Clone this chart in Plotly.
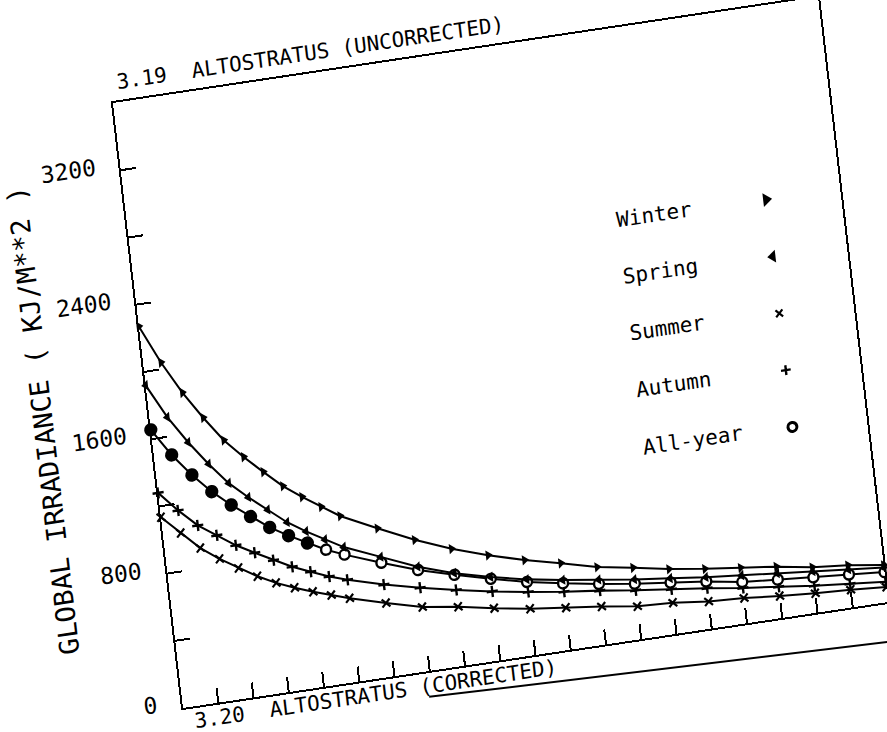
import plotly.graph_objects as go

# Irradiance curves for altostratus, by season
x_vals = [0, 0.5, 1, 1.5, 2, 2.5, 3, 3.5, 4, 4.5, 5,
          6, 7, 8, 9, 10, 11, 12, 13, 14, 15, 16, 17, 18, 19, 20]
winter = [2270, 2040, 1845, 1680, 1530, 1415, 1310, 1210, 1130, 1055, 985,
          880, 780, 695, 625, 565, 515, 460, 425, 385, 355, 330, 305, 270, 250, 220]
spring = [1920, 1715, 1550, 1405, 1275, 1175, 1085, 995, 925, 860, 800,
          710, 620, 550, 495, 450, 415, 385, 355, 330, 305, 285, 265, 245, 225, 205]
summer = [1135, 1025, 920, 840, 770, 705, 650, 605, 565, 530, 495,
          435, 380, 350, 310, 275, 250, 225, 195, 185, 160, 150, 130, 115, 105, 90]
autumn = [1280, 1160, 1055, 980, 905, 845, 785, 730, 685, 640, 605,
          545, 495, 450, 410, 375, 345, 320, 290, 265, 240, 210, 185, 160, 140, 120]
all_year = [1655, 1490, 1355, 1240, 1145, 1060, 980, 915, 855, 800, 755,
            675, 600, 540, 485, 435, 395, 360, 330, 305, 280, 245, 228, 210, 195, 178]

season_names = ["Winter", "Spring", "Summer", "Autumn", "All-year"]
y_tick_vals = [0, 800, 1600, 2400, 3200]
y_tick_text = ["0", "800", "1600", "2400", "3200"]

MONO = "DejaVu Sans Mono"

# Figure geometry (before the page skew is applied)
FIG_W, FIG_H = 960, 800
M_L, M_T, PLOT_W, PLOT_H = 170, 80, 713, 609

styles = {
    "Winter": dict(symbol="triangle-right", size=9, color="black"),
    "Spring": dict(symbol="triangle-left", size=9, color="black"),
    "Summer": dict(symbol="x-thin", size=8, color="black", line=dict(width=2.2, color="black")),
    "Autumn": dict(symbol="cross-thin", size=8, color="black", line=dict(width=2.4, color="black")),
    "All-year": dict(symbol="circle", size=10, line=dict(width=2.4, color="black")),
}
key_sizes = {"Winter": 12, "Spring": 11, "Summer": 7, "Autumn": 7, "All-year": 9}
series = {"Winter": winter, "Spring": spring, "Summer": summer,
          "Autumn": autumn, "All-year": all_year}

fig = go.Figure()

# draw lower curves first so the upper markers sit on top
for name in ["Summer", "Autumn", "All-year", "Spring", "Winter"]:
    mk = dict(styles[name], opacity=1)
    if name == "All-year":
        # early circles print solid, later ones open
        mk["color"] = ["black" if xv <= 4 else "white" for xv in x_vals]
        mk["size"] = [11 if xv <= 4 else 10 for xv in x_vals]
    fig.add_trace(go.Scatter(
        x=x_vals, y=series[name], mode="lines+markers", name=name,
        line=dict(color="black", width=2), marker=mk, showlegend=False,
        cliponaxis=False,
    ))

# key: label text with its symbol to the right
key_x_text, key_x_mark = 13.6, 17.9
key_y0, key_step = 2460, 338
for i, name in enumerate(season_names):
    ky = key_y0 - i * key_step
    mk = dict(styles[name], opacity=1)
    mk["size"] = key_sizes[name]
    if name == "All-year":
        mk["color"] = "white"
        mk["line"] = dict(width=3, color="black")
    fig.add_trace(go.Scatter(x=[key_x_mark], y=[ky], mode="markers",
                             marker=mk, showlegend=False, hoverinfo="skip"))
    fig.add_annotation(x=key_x_text, y=ky + 12, xref="x", yref="y",
                       text=name, showarrow=False, xanchor="left", yanchor="middle",
                       font=dict(family=MONO, size=21, color="black"))

# y tick labels, set a little above their ticks
for val, lab in zip(y_tick_vals, y_tick_text):
    fig.add_annotation(x=(147 - M_L) / PLOT_W, y=val, xref="paper", yref="y",
                       text=lab, showarrow=False, xanchor="right", yanchor="middle",
                       yshift=7, font=dict(family=MONO, size=23, color="black"))

# chart title above the frame
fig.add_annotation(x=(174 - M_L) / PLOT_W, y=1, xref="paper", yref="paper",
                   text="3.19\u00a0\u00a0ALTOSTRATUS (UNCORRECTED)", showarrow=False,
                   xanchor="left", yanchor="bottom", yshift=6,
                   font=dict(family=MONO, size=21, color="black"))

# y-axis title
fig.add_annotation(x=(64 - M_L) / PLOT_W, y=0.5, xref="paper", yref="paper",
                   text="GLOBAL IRRADIANCE ( KJ/M**2 )", showarrow=False, textangle=-90,
                   xanchor="center", yanchor="middle",
                   font=dict(family=MONO, size=27, color="black"))

# heading of the next chart on the page, with its top border
fig.add_annotation(x=(178 - M_L) / PLOT_W, y=0, xref="paper", yref="paper",
                   text="3.20\u00a0\u00a0ALTOSTRATUS (CORRECTED)", showarrow=False,
                   xanchor="left", yanchor="top", yshift=-1,
                   font=dict(family=MONO, size=21, color="black"))
fig.add_shape(type="line", xref="paper", yref="paper",
              x0=0.345, y0=-0.042, x1=1.03, y1=-0.066,
              line=dict(color="black", width=2))

fig.update_xaxes(range=[0, 20], dtick=1, tick0=0, ticks="inside", ticklen=15,
                 tickwidth=2, tickcolor="black", showticklabels=False,
                 showline=True, linecolor="black", linewidth=2, mirror=True,
                 showgrid=False, zeroline=False)
fig.update_yaxes(range=[0, 3600], dtick=400, tick0=0,
                 ticks="inside", ticklen=15, tickwidth=2, tickcolor="black",
                 showticklabels=False,
                 showline=True, linecolor="black", linewidth=2, mirror=True,
                 showgrid=False, zeroline=False)

fig.update_layout(
    width=FIG_W, height=FIG_H,
    margin=dict(l=M_L, r=FIG_W - M_L - PLOT_W, t=M_T, b=FIG_H - M_T - PLOT_H),
    paper_bgcolor="white", plot_bgcolor="white",
    font=dict(family=MONO, color="black"),
    showlegend=False,
)

# The printed page sits slightly skewed: map the plot frame onto a
# tilted parallelogram with a CSS matrix.
corner_bl = (183, 708)
corner_br = (888, 602)
corner_tl = (113, 103)
ma = (corner_br[0] - corner_bl[0]) / PLOT_W
mb = (corner_br[1] - corner_bl[1]) / PLOT_W
mc = (corner_bl[0] - corner_tl[0]) / PLOT_H
md = (corner_bl[1] - corner_tl[1]) / PLOT_H
me = corner_bl[0] - ma * M_L - mc * (M_T + PLOT_H)
mf = corner_bl[1] - mb * M_L - md * (M_T + PLOT_H)

post_script = (
    "var gd = document.getElementById('{plot_id}');"
    "document.documentElement.style.overflow = 'hidden';"
    "document.body.style.margin = '0';"
    "document.body.style.overflow = 'hidden';"
    "gd.style.transformOrigin = '0 0';"
    f"gd.style.transform = 'matrix({ma:.5f},{mb:.5f},{mc:.5f},{md:.5f},{me:.3f},{mf:.3f})';"
)

fig.write_html("out.html", post_script=post_script)
